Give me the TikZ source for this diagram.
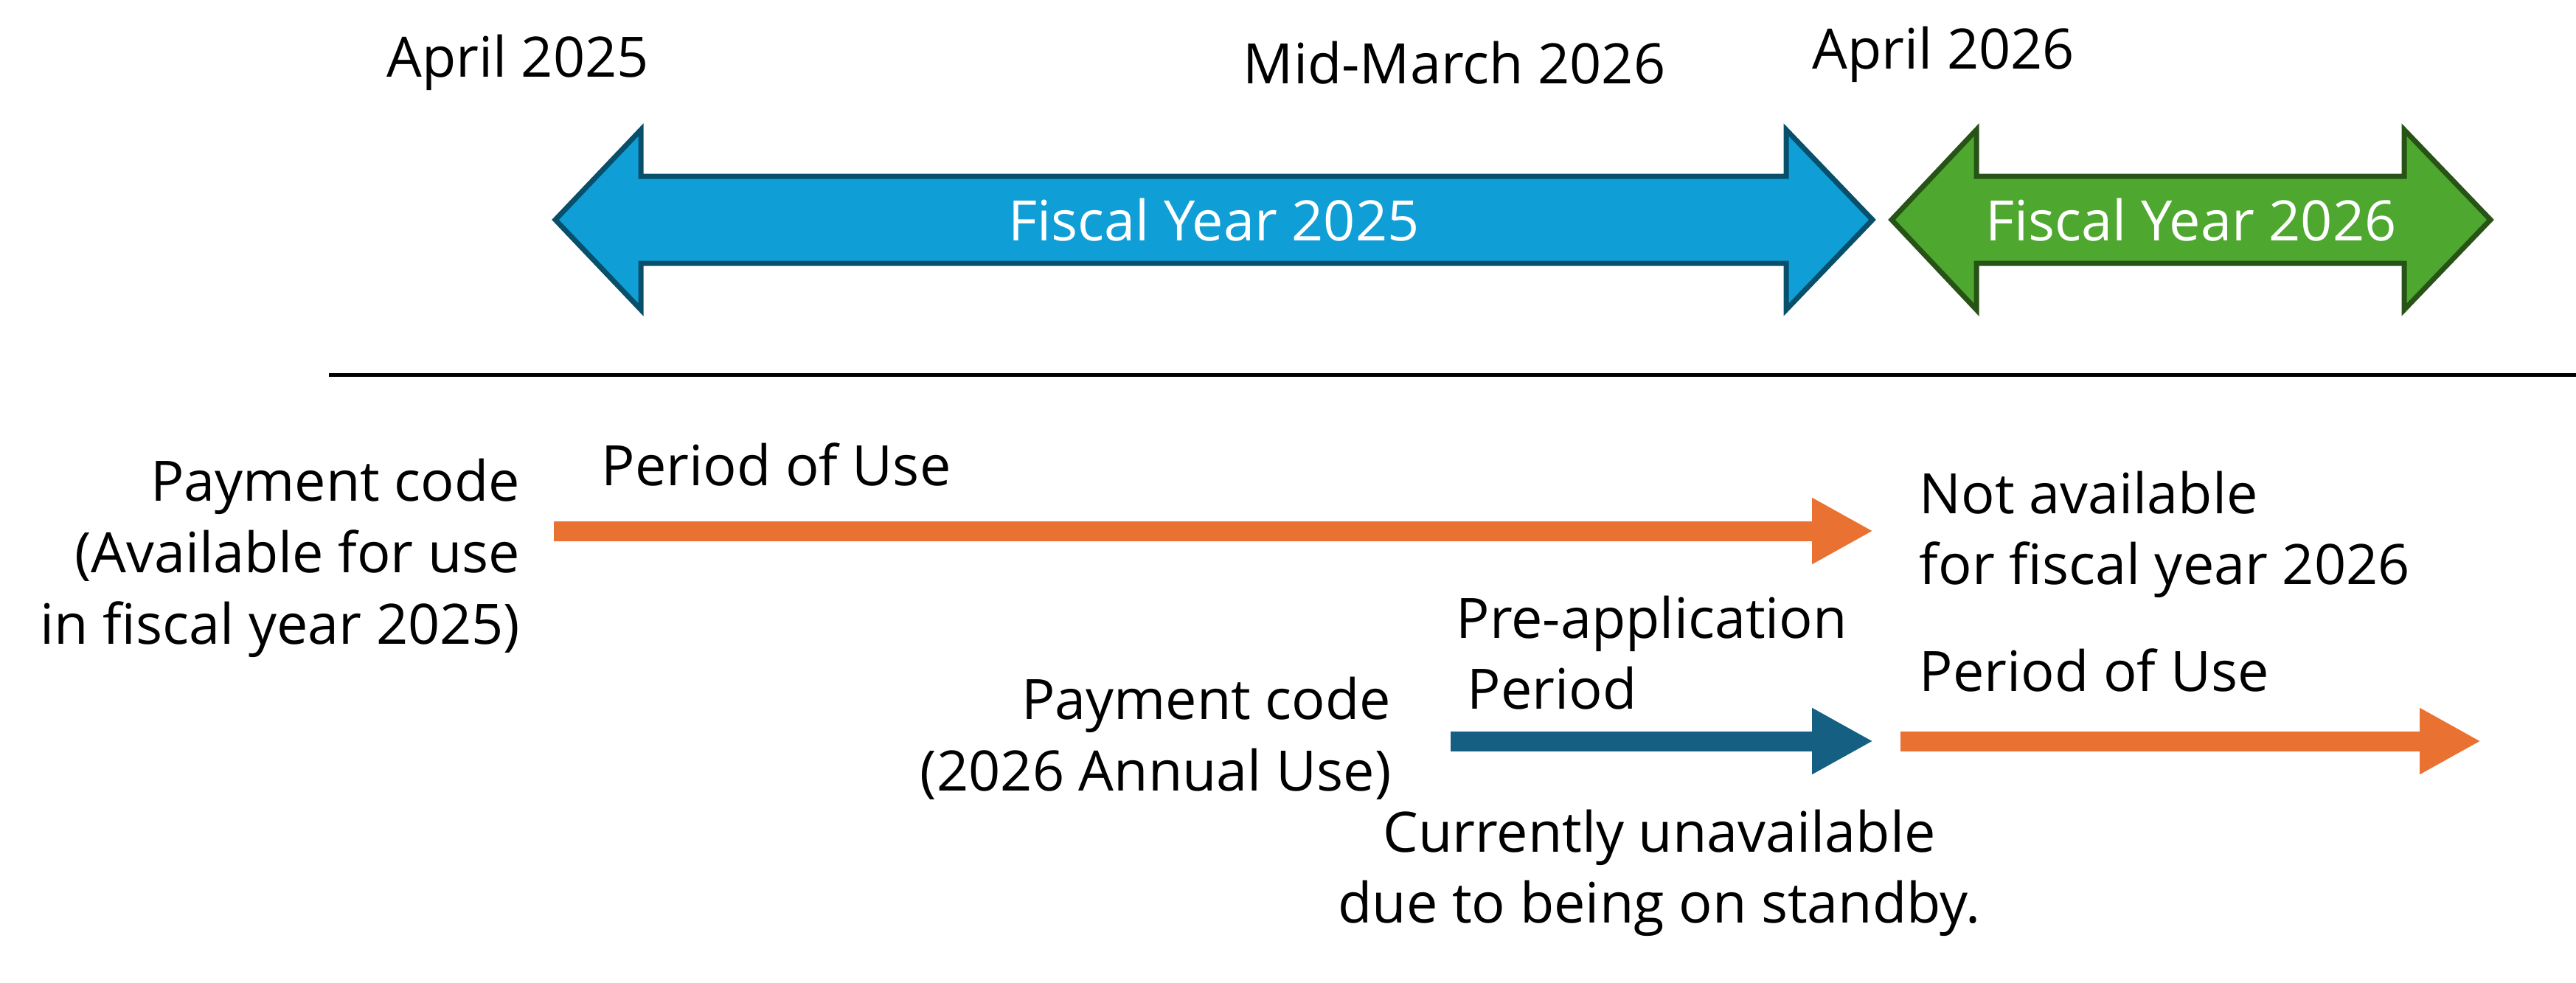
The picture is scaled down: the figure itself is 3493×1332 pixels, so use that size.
\documentclass[tikz,border=0pt]{standalone}
\usepackage{fontspec}
\setmainfont{Open Sans}
\usetikzlibrary{arrows.meta}

\definecolor{fyblue}{HTML}{0F9ED5}
\definecolor{fyblueline}{HTML}{074F6A}
\definecolor{fygreen}{HTML}{4EA72E}
\definecolor{fygreenline}{HTML}{275317}
\definecolor{useorange}{HTML}{E97132}
\definecolor{preblue}{HTML}{156082}

\tikzset{
  lbl/.style={font=\fontsize{21.5}{27.5}\selectfont, inner sep=0pt},
  fylbl/.style={lbl, text=white},
  fybox/.style={line width=0.7mm, line join=miter},
  period/.style={line width=2.7mm, -{Triangle[length=8.3mm,width=8.4mm]}},
}

\begin{document}
\begin{tikzpicture}[x=0.1mm,y=-0.1mm]
\useasboundingbox (0,0) rectangle (3493,1332);

% dates
\node[lbl] (apr25) at (702,85) {April 2025};
\node[lbl] (midmar) at (1972,85) {Mid-March 2026};
\node[lbl] (apr26) at (2635,74) {April 2026};

% fiscal years
\draw[fybox,fill=fyblue,draw=fyblueline] (753,298) -- (869,176) -- (869,239) -- (2422,239) -- (2422,176)
  -- (2539,298) -- (2422,420) -- (2422,357) -- (869,357) -- (869,420) -- cycle;
\draw[fybox,fill=fygreen,draw=fygreenline] (2565,298) -- (2680,176) -- (2680,239) -- (3260,239) -- (3260,176)
  -- (3377,298) -- (3260,420) -- (3260,357) -- (2680,357) -- (2680,420) -- cycle;
\node[fylbl] (fy25) at (1646,298) {Fiscal Year 2025};
\node[fylbl] (fy26) at (2971,298) {Fiscal Year 2026};

\coordinate (sepL) at (446,508);
\coordinate (sepR) at (3493,508);
\draw[line width=0.5mm] (sepL) -- (sepR);

% payment code fy 2025
\node[lbl,align=right,anchor=east] (code25) at (706,757) {Payment code\\(Available for use\\in fiscal year 2025)};
\node[lbl,anchor=west] (use25) at (815,630) {Period of Use};
\coordinate (a25s) at (751,720);
\coordinate (a25e) at (2540,720);
\draw[period,useorange] (a25s) -- (a25e);
\node[lbl,align=left,anchor=west] (na26) at (2602,725) {Not available\\for fiscal year 2026};

% payment code 2026
\node[lbl,align=right,anchor=east] (code26) at (1887,1001) {Payment code\\(2026 Annual Use)};
\node[lbl,align=left,anchor=west] (preapp) at (1974,885) {Pre-application\\\hspace{1.5mm}Period};
\coordinate (pres) at (1967,1005);
\coordinate (pree) at (2540,1005);
\draw[period,preblue] (pres) -- (pree);
\node[lbl,anchor=west] (use26) at (2602,909) {Period of Use};
\coordinate (u26s) at (2577,1005);
\coordinate (u26e) at (3364,1005);
\draw[period,useorange] (u26s) -- (u26e);
\node[lbl,align=center] (standby) at (2250,1184) {Currently unavailable\\due to being on standby.};
\end{tikzpicture}
\end{document}
